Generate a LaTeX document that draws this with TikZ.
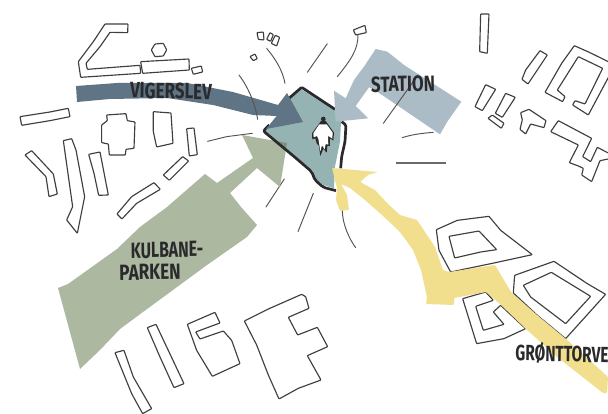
\documentclass[tikz,border=0pt]{standalone}
\usepackage{fontspec}
\setmainfont{Fira Sans}
\definecolor{inkc}{HTML}{2A2A2C}
\definecolor{bluec}{HTML}{5F7484}
\definecolor{statc}{HTML}{ABBCC6}
\definecolor{greenc}{HTML}{ACB8A0}
\definecolor{overc}{HTML}{7F8F80}
\definecolor{tealc}{HTML}{95B3B2}
\definecolor{yelc}{HTML}{F1DF8E}
\tikzset{
 bld/.style={draw=inkc!90,line width=1.15pt,line join=round,line cap=round,rounded corners=0.6pt},
 thin line/.style={draw=inkc!80,line width=0.95pt,line cap=round},
 z1/.style={shift={(0,0)},x=.3333pt,y=-.3333pt},
 z2/.style={shift={(304,0)},x=.3333pt,y=-.3333pt},
 z3/.style={shift={(0,207)},x=.3333pt,y=-.3333pt},
 z4/.style={shift={(304,207)},x=.3333pt,y=-.3333pt},
 z5/.style={shift={(240,70)},x=.3333pt,y=-.3333pt},
 z6/.style={shift={(235,285)},x=.3333pt,y=-.3333pt},
 z7/.style={shift={(520,40)},x=.3333pt,y=-.3333pt},
 lbl/.style={text=inkc,inner sep=0pt,font=\fontsize{22}{22}\selectfont\bfseries},
}
\begin{document}
\begin{tikzpicture}[x=1pt,y=-1pt]
\useasboundingbox (0,0) rectangle (608,414);
\clip (0,0) rectangle (608,414);
% ---- top-left buildings
\begin{scope}[z1]
\draw[bld] (315,72)--(384,72)--(383,98)--(330,97)--(300,140)--(258,190)--(262,208)--(420,196)--(422,220)--(242,232)--(235,185)--(280,125)--cycle;
\draw[bld] (422,185)--(567,177)--(568,210)--(428,220)--cycle;
\draw[bld] (465,132)--(490,130)--(500,150)--(490,168)--(465,170)--(454,150)--cycle;
\draw[bld] (574,205)--(604,198)--(608,216)--(580,223)--cycle;
\draw[bld] (771,98)--(790,96)--(792,120)--(775,118)--cycle;
\draw[bld] (800,118)--(810,98)--(820,104)--(812,124)--cycle;
\draw[bld] (814,130)--(826,106)--(839,112)--(830,138)--cycle;
\draw[bld] (750,170)--(765,162)--(772,176)--(760,182)--cycle;
\draw[bld] (60,350)--(150,336)--(205,325)--(210,350)--(150,362)--(65,376)--cycle;
\draw[bld] (320,345)--(378,341)--(382,362)--(405,366)--(402,445)--(378,448)--(376,465)--(328,465)--(325,432)--(305,428)--(305,375)--(322,362)--cycle;
\draw[bld] (460,335)--(513,339)--(519,430)--(470,441)--(460,395)--cycle;
\draw[bld] (560,386)--(582,384)--(592,464)--(568,468)--cycle;
\draw[bld] (490,525)--(548,470)--(566,483)--(508,541)--cycle;
\draw[bld] (75,465)--(95,452)--(160,522)--(172,582)--(147,590)--(138,530)--cycle;
\draw[bld] (190,422)--(215,416)--(228,450)--(254,590)--(232,700)--(200,660)--(218,620)--cycle;
\draw[bld] (266,463)--(300,456)--(325,585)--(296,586)--(282,520)--cycle;
\draw[bld] (351,642)--(395,590)--(462,548)--(481,568)--(410,610)--(366,657)--cycle;
\end{scope}
% ---- bottom-left buildings
\begin{scope}[z3]
\draw[bld] (345,437)--(372,430)--(400,510)--(455,605)--(428,620)--(395,560)--cycle;
\draw[bld] (442,362)--(468,352)--(552,530)--(522,542)--(480,450)--cycle;
\draw[bld] (562,352)--(645,316)--(660,348)--(587,375)--(600,396)--(670,372)--(695,400)--(720,470)--(637,508)--(590,430)--cycle;
\end{scope}
\begin{scope}[z6]
\draw[bld] (28,108)--(100,72)--(200,28)--(212,35)--(222,70)--(160,97)--(188,150)--(247,127)--(278,185)--(217,212)--(258,285)--(190,310)--(132,342)--(100,270)--(65,180)--cycle;
\end{scope}
% ---- right buildings
\begin{scope}[z2]
\draw[bld] (530,42)--(555,42)--(550,160)--(527,155)--cycle;
\draw[bld] (708,152)--(730,165)--(672,252)--(654,238)--(665,210)--cycle;
\draw[bld] (545,254)--(575,268)--(535,332)--(513,320)--cycle;
\draw[bld] (605,280)--(634,292)--(595,352)--(574,340)--cycle;
\draw[bld] (565,345)--(600,370)--(592,385)--(552,355)--cycle;
\draw[bld] (650,338)--(675,328)--(726,362)--(720,383)--(680,372)--(665,402)--(648,388)--(655,360)--cycle;
\end{scope}
\begin{scope}[z7]
\draw[bld] (285,75)--(210,38)--(163,17)--(125,70)--(75,157)--(128,185)--(135,170)--(112,150)--(175,50)--(248,85)--(195,192)--(165,182)--(158,195)--(205,225)--(285,75);
\draw[bld] (290,352)--(232,322)--(212,365)--(188,350)--(215,295)--(115,242)--(92,275)--(175,315)--(148,368)--(175,378)--(190,385)--(185,405)--(215,425)--(240,362)--(290,352);
\end{scope}
\begin{scope}[z4]
\draw[bld] (397,68)--(460,40)--(555,28)--(590,70)--(685,143)--(570,168)--(440,195)--(405,130)--cycle;
\draw[bld] (435,88)--(525,72)--(578,128)--(530,135)--(452,153)--cycle;
\draw[bld] (632,205)--(750,163)--(850,230)--(905,262)--(785,395)--(700,325)--(628,258)--cycle;
\draw[bld] (658,235)--(742,196)--(860,268)--(785,350)--(680,270)--cycle;
\draw[bld] (476,275)--(545,255)--(568,280)--(515,298)--(538,370)--(600,352)--(568,315)--(590,295)--(665,365)--(600,395)--(518,410)--cycle;
\end{scope}
% ---- sketch lines
\begin{scope}[z1]
\draw[thin line] (800,145) .. controls (825,175) and (848,210) .. (855,250);
\draw[thin line] (623,424)--(680,410)--(757,400);
\draw[thin line] (853,537)--(798,621);
\end{scope}
\begin{scope}[z2]
\draw[bld] (148,90)--(183,76)--(187,98)--(155,105)--cycle;
\draw[thin line] (70,131)--(10,217);
\draw[thin line] (162,105) .. controls (162,150) and (140,180) .. (100,230);
\draw[thin line] (295,413) .. controls (325,403) and (355,400) .. (388,397);
\draw[draw=inkc!70,line width=1.25pt] (277,489)--(425,489);
\draw[thin line] (28,580)--(-18,695);
\end{scope}
\begin{scope}[z4]
\draw[thin line] (115,10) .. controls (115,50) and (135,95) .. (155,122);
\end{scope}
% ---- site
\begin{scope}[z5]
\fill[tealc] (185,58)--(285,122)--(303,155)--(300,215)--(285,290)--(282,355)--(250,345)--(228,328)--(218,302)--(165,258)--(75,183)--(145,90)--cycle;
\end{scope}
% ---- green arrow
\def\greenpath{(242,135)--(287,143)--(280,187)--(257,168)--(230,193)--(241,207)--(257,225)--(247,237)--(207,265)--(143,312)--(120,329)--(100,350)--(80,369)--(58,288)--(68,284)--(117,249)--(140,227)--(167,207)--(205,174)--(217,183)--(253,158)--cycle}
\fill[greenc] \greenpath;
\begin{scope}
\clip[shift={(240,70)},x=.3333pt,y=-.3333pt] (185,58)--(285,122)--(303,155)--(300,215)--(285,290)--(282,355)--(250,345)--(228,328)--(218,302)--(165,258)--(75,183)--(145,90)--cycle;
\fill[overc] \greenpath;
\end{scope}
% ---- black outline
\begin{scope}[z5]
\draw[inkc,line width=2.7pt,line join=round,rounded corners=1pt] (147,85)--(185,52)--(285,118);
\draw[inkc,line width=2.7pt,line join=round,rounded corners=1.5pt] (305,155)--(318,165)--(315,215)--(305,260)--(302,295);
\draw[inkc,line width=2.7pt,line join=round,rounded corners=2pt] (288,362)--(250,352)--(225,330)--(215,305)--(165,262)--(70,183)--(88,165);
% person
\fill[inkc] (250,147) circle (7);
\fill[inkc] (243,153)--(257,153)--(262,160)--(282,188)--(280,212)--(270,205)--(270,228)--(262,228)--(260,248)--(250,236)--(241,258)--(237,228)--(230,220)--(226,205)--(217,208)--(216,190)--(238,160)--cycle;
\fill[white] (238,163)--(260,163)--(278,188)--(277,206)--(264,197)--(265,224)--(257,222)--(254,238)--(246,226)--(241,244)--(235,206)--(231,198)--(221,202)--(220,190)--cycle;
\end{scope}
% ---- blue arrow
\fill[bluec] (76,86)--(117,83)--(187,83)--(233,92)--(278,105)--(287,93)--(303,122)--(266,129)--(277,116)--(253,115)--(213,105)--(167,98)--(110,99)--(77,102)--cycle;
% ---- station arrow
\begin{scope}[z2]
\fill[statc] (215,147)--(250,155)--(300,195)--(472,305)--(430,365)--(408,403)--(215,272)--(195,262)--(155,318)--(193,355)--(95,365)--(90,272)--(125,295)--(150,240)--(180,200)--cycle;
\end{scope}
% ---- yellow arrow
\fill[yelc,rounded corners=1pt] (332,168)--(378,172)--(368,175)--(360,182)--(375,190)--(387,203)--(400,215)--(417,220)--(425,232)--(435,247)--(443,270)--(449,272)--(495,265)--(511,292)--(537,315)--(566,339)--(608,377)--(607,393)--(603,393)--(557,357)--(526,329)--(501,305)--(486,292)--(454,298)--(454,305)--(426,304)--(427,297)--(421,270)--(413,250)--(400,232)--(382,215)--(365,200)--(350,188)--(341,184)--(347,195)--(349,210)--(340,211)--(336,200)--(337,188)--cycle;
% ---- lines over arrows
\begin{scope}[z1]
\draw[thin line] (717,225) .. controls (745,262) and (765,310) .. (773,358);
\end{scope}
\begin{scope}[z2]
\draw[thin line] (342,225)--(238,370);
\end{scope}
% ---- labels
\node[lbl,xscale=.77,rotate=-1] (vig) at (171,91) {VIGERSLEV};
\node[lbl,xscale=.77,rotate=1] (sta) at (403,84) {STATION};
\node[lbl,xscale=.72,rotate=1] (kul) at (167,250) {KULBANE-};
\node[lbl,xscale=.78,rotate=1] (par) at (150,272) {PARKEN};
\node[lbl,xscale=.7,rotate=-1] (gro) at (562,354) {GRØNTTORVE};
\end{tikzpicture}
\end{document}
